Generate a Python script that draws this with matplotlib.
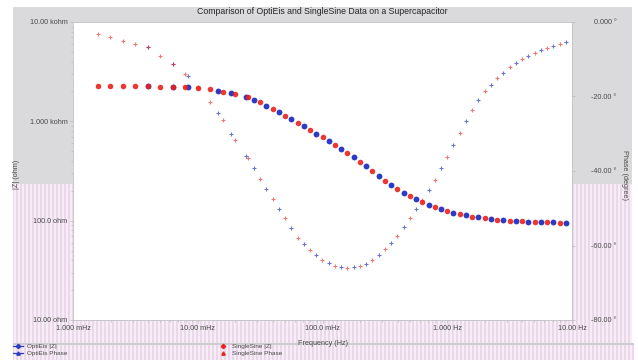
import numpy as np
import matplotlib
matplotlib.use("Agg")
from matplotlib import pyplot as plt
from matplotlib.lines import Line2D
from matplotlib.ticker import FixedLocator, NullFormatter

plt.rcParams['font.family'] = ['Liberation Sans', 'DejaVu Sans']

# SingleSine sweep (Hz), |Z| (ohm) and phase (degrees)
ss_freq = [0.001585, 0.001995, 0.002512, 0.003162, 0.003981, 0.005012, 0.00631, 0.007943,
           0.01, 0.01259, 0.01585, 0.01995, 0.02512, 0.03162, 0.03981, 0.05012, 0.0631, 0.07943,
           0.1, 0.1259, 0.1585, 0.1995, 0.2512, 0.3162, 0.3981, 0.5012, 0.631, 0.7943,
           1.0, 1.259, 1.585, 1.995, 2.512, 3.162, 3.981, 5.012, 6.31, 7.943]
ss_zmod = [2259, 2259, 2259, 2254, 2249, 2239, 2223, 2198,
           2163, 2099, 1995, 1875, 1738, 1549, 1334, 1143, 966, 818,
           692, 579, 479, 391, 316, 251, 208, 176, 153, 136,
           124.5, 115.6, 109.6, 105.7, 102.3, 100.0, 98.2, 97.1, 96.2, 95.7]
ss_phase = [-3.1, -3.9, -5.0, -5.8, -6.8, -9.2, -11.4, -14.0,
            -17.5, -21.5, -26.2, -31.7, -36.5, -42.2, -47.6, -52.6, -58.0, -61.3,
            -63.8, -65.4, -66.0, -65.6, -64.0, -61.0, -57.5, -52.6, -47.8, -42.3,
            -36.3, -29.8, -23.5, -18.6, -15.1, -12.2, -9.9, -8.2, -7.0, -5.9]

# OptiEIS multisine (Hz), |Z| (ohm) and phase (degrees)
oe_freq = [0.003981, 0.00631, 0.008318, 0.01445, 0.01862, 0.02455, 0.02818, 0.03548,
           0.04467, 0.05623, 0.07079, 0.08913, 0.1122, 0.1413, 0.1778, 0.2239, 0.2818,
           0.3548, 0.4467, 0.5623, 0.7079, 0.8913, 1.122, 1.413, 1.778, 2.239, 2.818,
           3.548, 4.467, 5.623, 7.079, 8.913]
oe_zmod = [2249, 2223, 2192, 2042, 1912, 1752, 1641, 1439,
           1236, 1052, 889, 753, 634, 527, 433, 352, 282,
           229, 191, 164, 145, 130, 120, 113, 108, 104, 101,
           99.1, 97.7, 96.6, 95.9, 95.5]
oe_phase = [-6.8, -11.4, -14.6, -24.3, -30.0, -36.0, -39.3, -44.9,
            -50.1, -55.3, -59.7, -62.6, -64.6, -65.7, -65.8, -64.9, -62.6,
            -59.3, -55.1, -50.2, -45.1, -39.3, -33.1, -26.6, -21.0, -16.8, -13.6,
            -11.0, -9.0, -7.6, -6.4, -5.3]

x_ticks = [0.001, 0.01, 0.1, 1.0, 10.0]
x_labels = ['1.000 mHz', '10.00 mHz', '100.0 mHz', '1.000 Hz', '10.00 Hz']
z_ticks = [10, 100, 1000, 10000]
z_labels = ['10.00 ohm', '100.0 ohm', '1.000 kohm', '10.00 kohm']
ph_ticks = [-80, -60, -40, -20, 0]
ph_labels = ['-80.00 \u00b0', '-60.00 \u00b0', '-40.00 \u00b0', '-20.00 \u00b0', '0.000 \u00b0']

blue = '#2b3bc4'
red = '#e8221c'
txt = '#4a4a4a'

W, H = 638, 360
fig = plt.figure(figsize=(W / 100, H / 100), dpi=100, facecolor='white')

# gray panel with the striped pink lower half
bg = np.ones((H, W, 3))
bg[7:343, 13:632] = (0.855, 0.855, 0.865)
cols = np.arange(13, 634)
pink = np.where(cols % 4 < 2, 0, 1)
stripe = np.array([(0.925, 0.85, 0.925), (0.968, 0.93, 0.968)])[pink]
bg[184:343, 13:632] = stripe[:619]
bg[345:360, 13:634] = stripe
bg[343:345, 13:634] = (0.80, 0.80, 0.82)
fig.figimage(bg, xo=0, yo=0, origin='upper', zorder=-10)

ax = fig.add_axes([73 / W, (H - 320) / H, (572 - 73) / W, (320 - 22) / H])
ax.set_facecolor('white')
ax.set_xscale('log')
ax.set_yscale('log')
ax.set_xlim(0.001, 10)
ax.set_ylim(10, 10000)

ax.plot(oe_freq, oe_zmod, 'o', color=blue, ms=4.2, mec='none', zorder=3)
ax.plot(ss_freq, ss_zmod, 'o', color=red, ms=4.0, mec='none', alpha=0.9, zorder=3)

ax2 = ax.twinx()
ax2.set_ylim(-80, 0)
ax2.plot(oe_freq, oe_phase, '+', color=blue, ms=3.4, mew=0.8, alpha=0.7)
ax2.plot(ss_freq, ss_phase, '+', color=red, ms=3.4, mew=0.8, alpha=0.6)

ax.xaxis.set_major_locator(FixedLocator(x_ticks))
ax.set_xticklabels(x_labels)
ax.xaxis.set_minor_formatter(NullFormatter())
ax.yaxis.set_major_locator(FixedLocator(z_ticks))
ax.set_yticklabels(z_labels)
ax.yaxis.set_minor_formatter(NullFormatter())
ax2.yaxis.set_major_locator(FixedLocator(ph_ticks))
ax2.set_yticklabels(ph_labels)

for a in (ax, ax2):
    for s in a.spines.values():
        s.set_color('#c4c4c8')
        s.set_linewidth(0.5)
    a.tick_params(which='both', colors='#b8b8bc', labelcolor=txt, labelsize=5.2,
                  width=0.5, length=2)
    a.tick_params(which='minor', length=1.2)

ax.tick_params(axis='x', pad=1.5)
ax.tick_params(axis='y', pad=2)
ax2.tick_params(axis='y', pad=30)
for lab in ax2.get_yticklabels():
    lab.set_horizontalalignment('right')

ax.set_xlabel('Frequency (Hz)', fontsize=5.2, color=txt)
ax.xaxis.set_label_coords(0.5, -0.067)
ax.set_ylabel('|Z| (ohm)', fontsize=5.2, color=txt)
ax.yaxis.set_label_coords(-0.106, 0.487)
ax2.set_ylabel('Phase (degree)', fontsize=5.2, color=txt, rotation=-90)
ax2.yaxis.set_label_coords(1.112, 0.487)

fig.text(322 / W, 1 - 12 / H, 'Comparison of OptiEis and SingleSine Data on a Supercapacitor',
         ha='center', va='center', fontsize=6.3, color='#252525', fontweight='medium')

left_handles = [
    Line2D([], [], color=blue, marker='D', ms=2.2, lw=0.9),
    Line2D([], [], color=blue, marker='^', ms=2.4, lw=0.9),
]
right_handles = [
    Line2D([], [], color=red, marker='D', ms=2.2, lw=0),
    Line2D([], [], color=red, marker='^', ms=2.4, lw=0),
]
leg_kw = dict(loc='upper left', frameon=False, fontsize=4.6, handlelength=1.6,
              handletextpad=0.6, labelspacing=0.15, borderpad=0, borderaxespad=0)
leg1 = fig.legend(left_handles, ['OptiEis |Z|', 'OptiEis Phase'],
                  bbox_to_anchor=(13 / W, 1 - 344 / H), **leg_kw)
leg2 = fig.legend(right_handles, ['SingleSine |Z|', 'SingleSine Phase'],
                  bbox_to_anchor=(218 / W, 1 - 344 / H), **leg_kw)
for leg in (leg1, leg2):
    for t in leg.get_texts():
        t.set_color(txt)

fig.savefig('out.png', dpi=100, facecolor='white')
